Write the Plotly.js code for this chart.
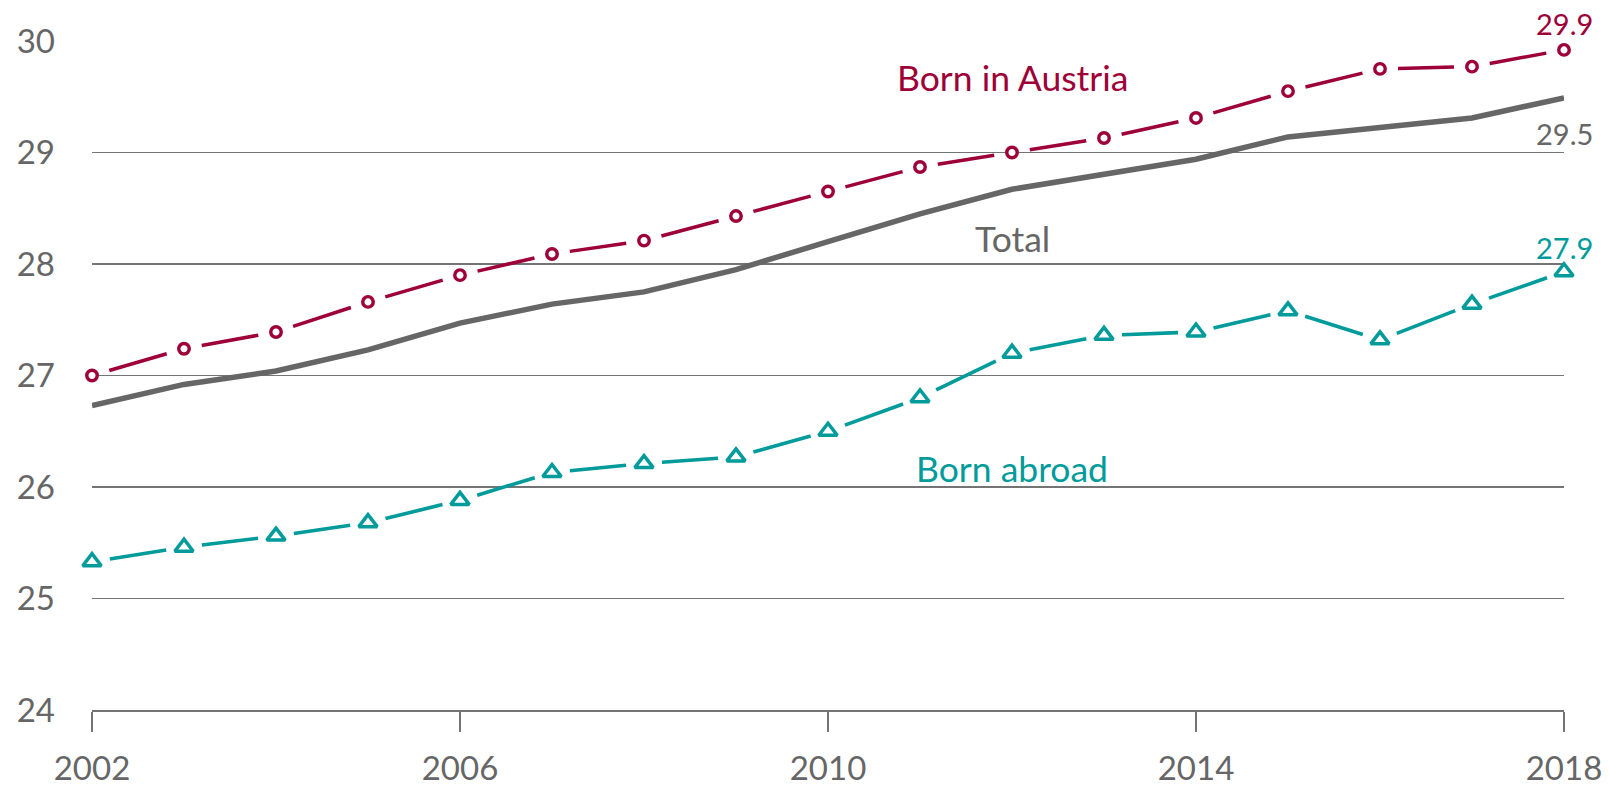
<!DOCTYPE html>
<html>
<head>
<meta charset="utf-8">
<script src="https://cdn.plot.ly/plotly-3.0.1.min.js"></script>
<style>
  html, body { margin: 0; padding: 0; background: #ffffff; }
  #chart { width: 1609px; height: 787px; }
</style>
</head>
<body>
<div id="chart"></div>
<script>
// ---- data ----
const years = [2002, 2003, 2004, 2005, 2006, 2007, 2008, 2009, 2010, 2011, 2012, 2013, 2014, 2015, 2016, 2017, 2018];
const bornInAustria = [27.00, 27.24, 27.39, 27.66, 27.90, 28.09, 28.21, 28.43, 28.65, 28.87, 29.00, 29.13, 29.31, 29.55, 29.75, 29.77, 29.92];
const total         = [26.73, 26.92, 27.04, 27.23, 27.47, 27.64, 27.75, 27.95, 28.20, 28.45, 28.67, 28.80, 28.94, 29.14, 29.23, 29.31, 29.49];
const bornAbroad    = [25.33, 25.46, 25.56, 25.68, 25.88, 26.13, 26.21, 26.27, 26.50, 26.80, 27.20, 27.36, 27.39, 27.58, 27.32, 27.64, 27.93];
const xTickVals = [2002, 2006, 2010, 2014, 2018];
const yTickVals = [24, 25, 26, 27, 28, 29, 30];
const seriesNames = ['Born in Austria', 'Total', 'Born abroad'];
const endLabels = ['29.9', '29.5', '27.9'];

// ---- styles ----
const CRIMSON = '#9E0038';
const TEAL = '#009B9A';
const GREY = '#666666';
const GRID = '#747474';
const FONT = 'Lato, "Open Sans", sans-serif';
const GAP = 18;

const traces = [];
const segIdx = [];

// Total line
traces.push({
  x: years, y: total, mode: 'lines', type: 'scatter', cliponaxis: false,
  line: { color: GREY, width: 5.5 }, hoverinfo: 'skip', showlegend: false
});

function addDashedSeries(vals, color, width) {
  for (let i = 0; i < years.length - 1; i++) {
    segIdx.push(traces.length);
    traces.push({
      x: [years[i], years[i + 1]], y: [vals[i], vals[i + 1]],
      mode: 'lines', type: 'scatter', cliponaxis: false,
      line: { color: color, width: width, dash: '0px,' + GAP + 'px,58px,200px' },
      hoverinfo: 'skip', showlegend: false
    });
  }
}
addDashedSeries(bornInAustria, CRIMSON, 3.5);
addDashedSeries(bornAbroad, TEAL, 3.6);

traces.push({
  x: years, y: bornInAustria, mode: 'markers', type: 'scatter', cliponaxis: false,
  marker: { symbol: 'circle', size: 10.5, color: '#ffffff', line: { color: CRIMSON, width: 3.4 } },
  hoverinfo: 'skip', showlegend: false
});
traces.push({
  x: years, y: bornAbroad, mode: 'markers', type: 'scatter', cliponaxis: false,
  marker: { symbol: 'triangle-up', size: 16, color: '#ffffff', line: { color: TEAL, width: 3.5 } },
  hoverinfo: 'skip', showlegend: false
});

const n = years.length - 1;
const yr = [24, 30];
function toPaper(v) { return (v - yr[0]) / (yr[1] - yr[0]); }
const annotations = [
  { x: 2012, y: toPaper(29.67), text: seriesNames[0], font: { color: CRIMSON, size: 35.5, family: FONT } },
  { x: 2012, y: toPaper(28.23), text: seriesNames[1], font: { color: GREY, size: 35.5, family: FONT } },
  { x: 2012, y: toPaper(26.17), text: seriesNames[2], font: { color: TEAL, size: 35.5, family: FONT } },
  { x: years[n], y: toPaper(30.155), text: endLabels[0], font: { color: CRIMSON, size: 29, family: FONT } },
  { x: years[n], y: toPaper(29.17), text: endLabels[1], font: { color: GREY, size: 29, family: FONT } },
  { x: years[n], y: toPaper(28.15), text: endLabels[2], font: { color: TEAL, size: 29, family: FONT } }
].map(a => Object.assign({ xref: 'x', yref: 'paper', showarrow: false, xanchor: 'center', yanchor: 'middle' }, a));

const layout = {
  width: 1609, height: 787,
  margin: { l: 92.3, r: 44.7, t: 40.5, b: 77.3, pad: 0, autoexpand: false },
  paper_bgcolor: '#ffffff', plot_bgcolor: '#ffffff',
  font: { family: FONT, color: GREY, size: 33 },
  showlegend: false,
  xaxis: {
    range: [2002, 2018], tickvals: xTickVals, ticktext: xTickVals.map(String),
    showgrid: false, zeroline: false, showline: true, linecolor: GRID, linewidth: 1.8,
    ticks: 'outside', ticklen: 20, tickwidth: 1.8, tickcolor: GRID,
    tickfont: { family: FONT, size: 33, color: GREY }, ticklabelstandoff: 9, fixedrange: true
  },
  yaxis: {
    range: yr, tickvals: yTickVals, ticktext: yTickVals.map(String),
    showgrid: true, gridcolor: GRID, gridwidth: 1.8, zeroline: false, showline: false,
    ticks: '', tickfont: { family: FONT, size: 33, color: GREY }, ticklabelstandoff: 36, fixedrange: true
  },
  annotations: annotations
};

const gd = document.getElementById('chart');
Plotly.newPlot(gd, traces, layout, { staticPlot: true, displayModeBar: false }).then(function () {
  const xa = gd._fullLayout.xaxis, ya = gd._fullLayout.yaxis;
  const dashes = segIdx.map(function (ti) {
    const t = traces[ti];
    const dx = xa.l2p(t.x[1]) - xa.l2p(t.x[0]);
    const dy = ya.l2p(t.y[1]) - ya.l2p(t.y[0]);
    const L = Math.hypot(dx, dy);
    return '0px,' + GAP + 'px,' + (L - 2 * GAP).toFixed(2) + 'px,' + (GAP + 50) + 'px';
  });
  return Plotly.restyle(gd, { 'line.dash': dashes }, segIdx);
});
</script>
</body>
</html>
